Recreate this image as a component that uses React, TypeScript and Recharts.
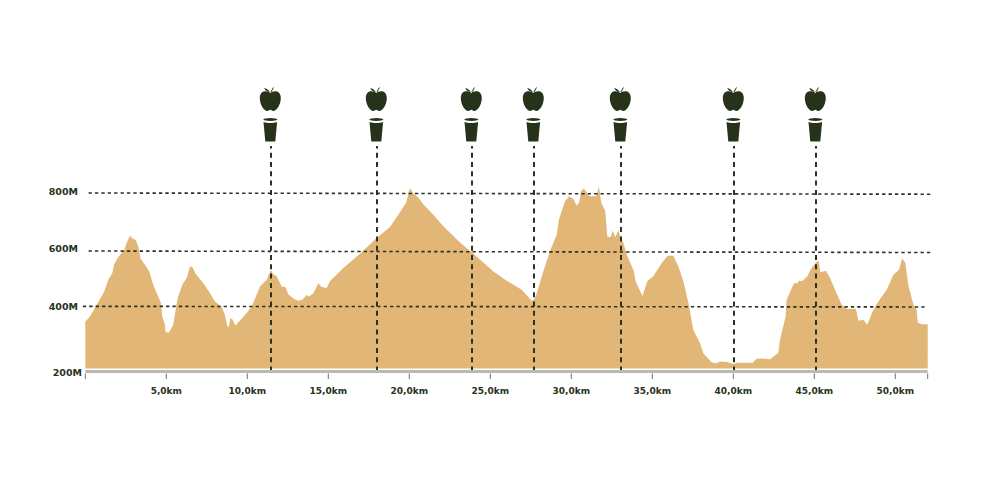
import { AreaChart, Area, XAxis, YAxis, ReferenceLine } from 'recharts';

const distances = [
  0, 0.29, 0.7, 1.15, 1.42, 1.67, 1.77, 2.04, 2.41, 2.55, 2.76, 2.86, 3.13, 3.29, 3.42, 3.68, 3.95, 4.16, 4.41, 4.67,
  4.75, 4.92, 4.96, 5.17, 5.43, 5.54, 5.7, 6.01, 6.26, 6.46, 6.61, 6.81, 7.29, 7.7, 8.0, 8.42, 8.62, 8.77, 8.87, 8.95,
  9.08, 9.26, 9.75, 10.27, 10.78, 11.2, 11.46, 11.57, 11.81, 12.12, 12.35, 12.53, 12.84, 13.15, 13.4, 13.66, 13.81,
  14.08, 14.38, 14.59, 14.9, 15.1, 15.93, 16.96, 17.98, 18.81, 19.32, 19.8, 20.04, 20.25, 20.56, 20.87, 21.28, 22.1,
  23.13, 23.91, 24.78, 25.19, 26.01, 26.94, 27.55, 27.7, 27.86, 28.27, 28.68, 29.1, 29.24, 29.61, 29.88, 30.13, 30.33,
  30.48, 30.6, 30.78, 31.11, 31.53, 31.71, 31.85, 32.1, 32.22, 32.43, 32.55, 32.72, 32.9, 33.05, 33.21, 33.42, 33.87,
  33.97, 34.39, 34.69, 35.06, 35.58, 35.95, 36.3, 36.61, 36.92, 37.23, 37.53, 37.95, 38.15, 38.67, 38.97, 39.18, 39.59,
  40.02, 40.2, 41.2, 41.44, 41.75, 42.27, 42.78, 42.88, 43.0, 43.23, 43.29, 43.7, 43.83, 43.91, 44.08, 44.24, 44.57,
  44.78, 45.15, 45.29, 45.35, 45.72, 45.97, 46.28, 46.69, 47.0, 47.57, 47.72, 48.03, 48.27, 48.6, 48.95, 49.47, 49.88,
  50.23, 50.43, 50.62, 50.8, 51.12, 51.32, 51.38, 51.63, 52,
];

const elevations = [
  367, 385, 424, 466, 508, 531, 559, 585, 609, 632, 657, 650, 641, 615, 578, 559, 536, 497, 463, 430,
  385, 357, 332, 331, 357, 396, 447, 494, 514, 553, 551, 529, 497, 463, 435, 418, 390, 351, 351, 379,
  376, 355, 383, 418, 486, 508, 542, 529, 520, 486, 484, 460, 445, 438, 441, 457, 452,
  463, 497, 484, 481, 503, 548, 596, 649, 686, 727, 767, 817, 798, 784, 761, 739, 688,
  634, 598, 556, 536, 505, 475, 438, 441, 461, 536, 604, 660, 711, 772, 789, 780, 758,
  767, 806, 815, 789, 789, 821, 767, 739, 654, 651, 673, 651, 675, 649, 634, 593, 536,
  503, 454, 503, 520, 565, 589, 589, 553, 503, 430, 340, 295, 261, 230, 228, 234, 232,
  225, 229, 229, 243, 244, 241, 263, 306, 334, 385, 441, 492, 499, 494, 506, 503, 520,
  544, 570, 570, 533, 539, 514, 475, 424, 410, 411, 371, 374, 357, 402, 435, 475, 525,
  542, 581, 565, 492, 424, 407, 365, 359, 359,
];

const xTicks = [0, 5, 10, 15, 20, 25, 30, 35, 40, 45, 50, 52];
const yTicks = [198, 418, 615, 805];
const yLabels = ['200M', '400M', '600M', '800M'];
const stations = [11.46, 18.0, 23.88, 27.7, 33.09, 40.03, 45.09];

// [startKm, startValue, endKm, endValue], the dotted lines lean very slightly
const gridLines = [
  [-0.15, 419, 51.85, 417],
  [0.2, 605, 52.3, 600],
  [0.2, 800, 52.3, 796],
];

const chartData = distances.map((km, i) => ({ km, elevation: elevations[i] }));

const DARK = '#26331a';

const StationLine = (props: any) => {
  const { x1, x2, y1, y2 } = props;
  const x = Math.round((x1 + x2) / 2);
  return (
    <g>
      <line
        x1={x}
        x2={x}
        y1={Math.min(y1, y2)}
        y2={Math.max(y1, y2)}
        stroke="#2a3320"
        strokeWidth={2}
        strokeDasharray="5 4.3"
        strokeDashoffset={2.6}
      />
      <g transform={`translate(${x - 0.7},0)`} fill={DARK}>
        <path d="M0 93 C3 90 10.5 90 10.5 98 C10.5 105 6 111 3 111 C1.5 111 0.8 109.8 0 109.8 C-0.8 109.8 -1.5 111 -3 111 C-6 111 -10.5 105 -10.5 98 C-10.5 90 -3 90 0 93 Z" />
        <path d="M-0.5 92 C-2 89.5 -4 88.5 -6 88 C-5.5 90 -3 92 -0.5 92 Z" />
        <path d="M0.6 92 L3.2 87.5" stroke={DARK} strokeWidth={1} fill="none" />
        <ellipse cx={0} cy={119.5} rx={7} ry={1.5} />
        <path d="M-6.8 122 C-3 123.4 3 123.4 6.8 122 L5 141.5 L-5 141.5 Z" />
      </g>
    </g>
  );
};

const XTick = (props: any) => {
  const { x, y, payload } = props;
  const showLabel = payload.value !== 0 && payload.value !== 52;
  return (
    <g>
      <line x1={x} x2={x} y1={y - 6} y2={y - 0.5} stroke="#6d7265" strokeWidth={1} />
      {showLabel && (
        <text x={x} y={y + 14} textAnchor="middle" fontFamily="DejaVu Sans" fontWeight={700} fontSize={9} fill={DARK}>
          {`${payload.value},0km`}
        </text>
      )}
    </g>
  );
};

const YTick = (props: any) => {
  const { y, payload, index } = props;
  return (
    <text x={payload.value === 198 ? 82 : 78} y={y + 3.5} textAnchor="end" fontFamily="DejaVu Sans" fontWeight={700} fontSize={9.5} fill={DARK}>
      {yLabels[index]}
    </text>
  );
};

export default function App() {
  return (
    <div style={{ position: 'absolute', left: 0, top: 0, width: 981, height: 480, background: '#fff' }}>
      <AreaChart width={981} height={480} data={chartData} margin={{ top: 146, right: 53.3, bottom: 78.5, left: 0 }}>
        <XAxis
          dataKey="km"
          type="number"
          domain={[0, 52]}
          ticks={xTicks}
          interval={0}
          height={30}
          tick={<XTick />}
          tickLine={false}
          axisLine={{ stroke: '#b9bbb3', strokeWidth: 3 }}
        />
        <YAxis
          type="number"
          domain={[200, 958]}
          ticks={yTicks}
          interval={0}
          width={85.3}
          tick={<YTick />}
          tickLine={false}
          axisLine={false}
        />
        <Area
          type="linear"
          dataKey="elevation"
          baseValue={210}
          fill="#e2b676"
          fillOpacity={1}
          stroke="none"
          dot={false}
          activeDot={false}
          isAnimationActive={false}
        />
        {gridLines.map(([km1, v1, km2, v2]) => (
          <ReferenceLine
            key={v1}
            segment={[
              { x: km1, y: v1 },
              { x: km2, y: v2 },
            ]}
            ifOverflow="visible"
            stroke="#2a3320"
            strokeWidth={1.6}
            strokeDasharray="3.3 3.1"
          />
        ))}
        {stations.map((km) => (
          <ReferenceLine key={km} x={km} shape={<StationLine />} />
        ))}
      </AreaChart>
    </div>
  );
}
